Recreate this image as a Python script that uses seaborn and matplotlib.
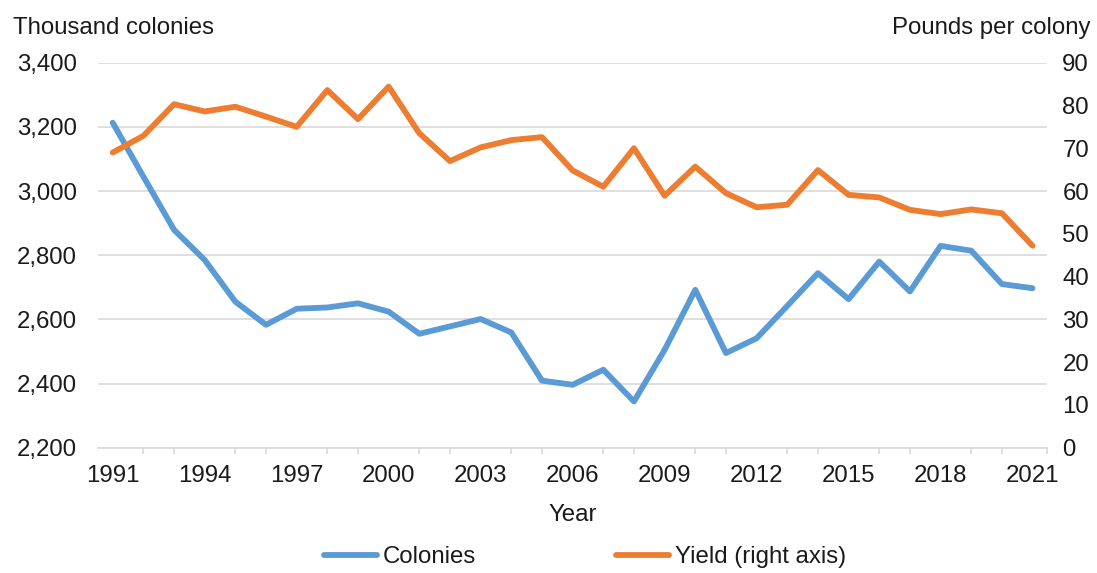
import matplotlib
matplotlib.use("Agg")
import matplotlib.pyplot as plt
import seaborn as sns
import pandas as pd
from matplotlib.ticker import FuncFormatter, FixedLocator
from matplotlib.lines import Line2D

# Honey bee colonies (thousands) and yield per colony (pounds), 1991-2021
years = list(range(1991, 2022))
colonies = [3213, 3045, 2879, 2785, 2655, 2583, 2633, 2637, 2650, 2624,
            2555, 2578, 2601, 2559, 2409, 2396, 2443, 2344, 2505, 2692,
            2495, 2541, 2642, 2744, 2663, 2780, 2687, 2829, 2814, 2710,
            2697]
yield_lbs = [69.0, 72.9, 80.3, 78.6, 79.7, 77.4, 75.0, 83.6, 76.8, 84.4,
             73.5, 67.0, 70.2, 71.9, 72.6, 64.8, 61.0, 70.0, 58.9, 65.7,
             59.5, 56.2, 56.8, 64.9, 59.1, 58.5, 55.6, 54.6, 55.7, 54.8,
             47.2]
year_labels = list(range(1991, 2022, 3))
left_ticks = list(range(2200, 3401, 200))
right_ticks = list(range(0, 91, 10))

BLUE = "#5B9BD5"
ORANGE = "#ED7D31"
GRID = "#D9D9D9"
TEXT = "#1a1a1a"
FS = 17.3
LW = 4.2

sns.set_theme(style="white")
plt.rcParams["font.family"] = ["Liberation Sans", "DejaVu Sans"]

df = pd.DataFrame({"Year": years, "Colonies": colonies, "Yield": yield_lbs})

fig = plt.figure(figsize=(10.97, 5.73), dpi=100)
ax = fig.add_axes([0.0896, 0.2187, 0.8648, 0.6719])
ax2 = ax.twinx()

sns.lineplot(data=df, x="Year", y="Colonies", ax=ax, color=BLUE,
             linewidth=LW, legend=False, solid_capstyle="round")
sns.lineplot(data=df, x="Year", y="Yield", ax=ax2, color=ORANGE,
             linewidth=LW, legend=False, solid_capstyle="round")

ax.set_xlim(1990.53, 2021.47)
ax.set_ylim(2200, 3400)
ax2.set_ylim(0, 90)

# Left axis: gridlines and comma-formatted labels
ax.yaxis.set_major_locator(FixedLocator(left_ticks))
ax.yaxis.set_major_formatter(FuncFormatter(lambda v, p: f"{int(v):,}"))
ax.grid(axis="y", color=GRID, linewidth=1.2)
ax.grid(axis="x", visible=False)
ax.tick_params(axis="y", length=0, pad=15.5, labelsize=FS, labelcolor=TEXT)

# Right axis
ax2.yaxis.set_major_locator(FixedLocator(right_ticks))
ax2.tick_params(axis="y", length=0, pad=11, labelsize=FS, labelcolor=TEXT)
ax2.grid(False)

# Category axis: tick marks at every year, labels every third year
ax.xaxis.set_major_locator(FixedLocator(year_labels))
ax.xaxis.set_minor_locator(FixedLocator(years + [2021.47]))
ax.tick_params(axis="x", which="major", length=0, pad=12.5, labelsize=FS,
               labelcolor=TEXT)
ax.tick_params(axis="x", which="minor", bottom=True, length=4, width=1.2,
               color=GRID, direction="out")
ax.set_xlabel("")
ax.set_ylabel("")
ax2.set_ylabel("")

for a in (ax, ax2):
    for s in ("top", "left", "right", "bottom"):
        a.spines[s].set_visible(False)
ax.spines["bottom"].set_visible(True)
ax.spines["bottom"].set_color(GRID)
ax.spines["bottom"].set_linewidth(1.2)

fig.text(13 / 1097, 1 - 34 / 573, "Thousand colonies", fontsize=FS,
         color=TEXT, ha="left", va="baseline")
fig.text(1090 / 1097, 1 - 34 / 573, "Pounds per colony", fontsize=FS,
         color=TEXT, ha="right", va="baseline")
fig.text(573 / 1097, 1 - 521 / 573, "Year", fontsize=FS, color=TEXT,
         ha="center", va="baseline")

handles = [Line2D([], [], color=BLUE, linewidth=LW, solid_capstyle="round"),
           Line2D([], [], color=ORANGE, linewidth=LW, solid_capstyle="round")]
fig.legend(handles, ["Colonies", "Yield (right axis)"], loc="center",
           bbox_to_anchor=(585 / 1097, 1 - 557 / 573), ncol=2, frameon=False,
           fontsize=FS, handlelength=2.2, handletextpad=0.25,
           columnspacing=5.85, labelcolor=TEXT, borderpad=0.1)

fig.savefig("out.png", dpi=100)
